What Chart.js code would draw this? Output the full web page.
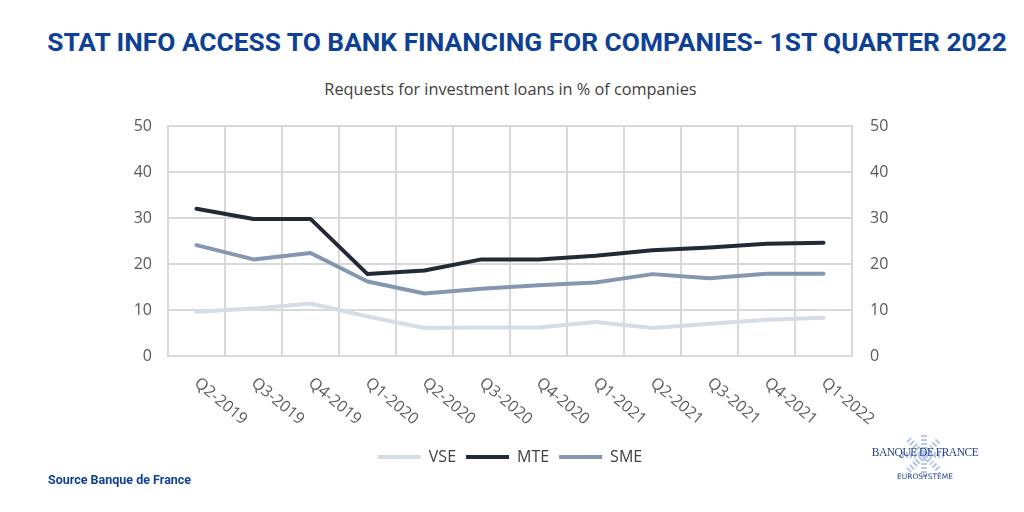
<!DOCTYPE html>
<html>
<head>
<meta charset="utf-8">
<script src="https://cdn.jsdelivr.net/npm/chart.js@4"></script>
<style>
  html, body { margin: 0; padding: 0; background: #fff; }
  #wrap { position: relative; width: 1024px; height: 512px; overflow: hidden; }
  #chart { position: absolute; left: 0; top: 0; }
  .title { position: absolute; left: 0; width: 1054px; top: 27px; text-align: center; font: 700 26.3px Roboto, sans-serif; color: #0e4195; white-space: nowrap; }
  .sub { position: absolute; left: 0; width: 1021px; top: 78px; text-align: center; font: 16.3px "Open Sans", sans-serif; color: #404040; }
  .source { position: absolute; left: 48px; top: 472px; font: 700 12.5px Roboto, sans-serif; color: #0e4195; }
  .logo { position: absolute; left: 866px; top: 428px; width: 118px; height: 60px; }
  .star { position: absolute; left: 58px; top: 27px; width: 0; height: 0; }
  .star span { position: absolute; left: -3px; top: -22px; width: 6px; height: 44px;
    background: repeating-linear-gradient(0deg, #b9c9e6 0 2px, transparent 2px 4px); }
  .bdf { position: absolute; left: 0; top: 18px; width: 118px; text-align: center; font: 11.5px "Liberation Serif", serif; color: #1f428f; letter-spacing: -0.5px; white-space: nowrap; }
  .euro { position: absolute; left: 0; top: 44px; width: 118px; text-align: center; font: 7.5px "DejaVu Sans", sans-serif; color: #1f428f; white-space: nowrap; }
</style>
</head>
<body>
<div id="wrap">
  <div class="title">STAT INFO ACCESS TO BANK FINANCING FOR COMPANIES- 1ST QUARTER 2022</div>
  <div class="sub">Requests for investment loans in % of companies</div>
  <canvas id="chart" width="1024" height="512"></canvas>
  <div class="source">Source Banque de France</div>
  <div class="logo">
    <div class="star">
      <span style="transform: rotate(0deg)"></span>
      <span style="transform: rotate(45deg)"></span>
      <span style="transform: rotate(90deg)"></span>
      <span style="transform: rotate(135deg)"></span>
    </div>
    <div class="bdf">BANQUE DE FRANCE</div>
    <div class="euro">EUROSYSTÈME</div>
  </div>
</div>
<script>
const quarters = ['Q2-2019', 'Q3-2019', 'Q4-2019', 'Q1-2020', 'Q2-2020', 'Q3-2020',
  'Q4-2020', 'Q1-2021', 'Q2-2021', 'Q3-2021', 'Q4-2021', 'Q1-2022'];
const vse = [9.6, 10.3, 11.4, 8.6, 6.1, 6.2, 6.2, 7.4, 6.1, 7.0, 7.9, 8.3];
const mte = [32.0, 29.8, 29.8, 17.8, 18.6, 21.0, 21.0, 21.8, 23.0, 23.6, 24.4, 24.6];
const sme = [24.1, 21.0, 22.4, 16.2, 13.6, 14.6, 15.4, 16.0, 17.8, 16.9, 17.9, 17.9];
const yTicks = [0, 10, 20, 30, 40, 50];

const gridColor = '#d9d9d9';
const tickColor = '#595959';

function line(label, data, color) {
  return {
    label, data,
    borderColor: color, backgroundColor: color,
    borderWidth: 4, borderCapStyle: 'round', borderJoinStyle: 'round',
    pointRadius: 0, tension: 0, yAxisID: 'y'
  };
}

// x labels go down to the right, Chart.js can't do that alignment itself
const slantedLabels = {
  id: 'slantedLabels',
  afterDraw(chart) {
    const ctx = chart.ctx;
    const xs = chart.scales.x;
    ctx.save();
    ctx.font = '16px "Open Sans", sans-serif';
    ctx.fillStyle = tickColor;
    ctx.textAlign = 'left';
    ctx.textBaseline = 'middle';
    xs.ticks.forEach((t, i) => {
      const x = xs.getPixelForTick(i);
      ctx.save();
      ctx.translate(x, chart.chartArea.bottom + 25);
      ctx.rotate(40 * Math.PI / 180);
      ctx.fillText(quarters[i], 0, 0);
      ctx.restore();
    });
    ctx.restore();
  }
};

const yOpts = (pos, pad) => ({
  position: pos,
  min: 0, max: 50,
  afterBuildTicks: s => { s.ticks = yTicks.map(v => ({ value: v })); },
  afterFit: s => { s.width = 40; },
  grid: { display: pos === 'left', color: gridColor, lineWidth: 2, drawTicks: false },
  border: { color: gridColor, width: 2 },
  ticks: { padding: pad, color: tickColor, font: { family: '"Open Sans", sans-serif', size: 16 } }
});

new Chart(document.getElementById('chart'), {
  type: 'line',
  data: {
    labels: quarters,
    datasets: [line('VSE', vse, '#d6dce5'), line('MTE', mte, '#222a35'), line('SME', sme, '#8497b0')]
  },
  options: {
    responsive: false,
    animation: false,
    layout: { padding: { left: 128, right: 132, top: 126, bottom: 37 } },
    scales: {
      x: {
        offset: true,
        grid: { offset: true, color: gridColor, lineWidth: 2, drawTicks: false },
        border: { color: gridColor, width: 2 },
        ticks: { display: false },
        afterFit: s => { s.height = 83; }
      },
      y: yOpts('left', 16),
      y2: yOpts('right', 18)
    },
    plugins: {
      legend: {
        position: 'bottom',
        labels: {
          usePointStyle: true, pointStyle: 'line', pointStyleWidth: 43, padding: 10,
          color: '#404040', font: { family: '"Open Sans", sans-serif', size: 16 }
        }
      },
      tooltip: { enabled: false }
    }
  },
  plugins: [slantedLabels]
});
</script>
</body>
</html>
